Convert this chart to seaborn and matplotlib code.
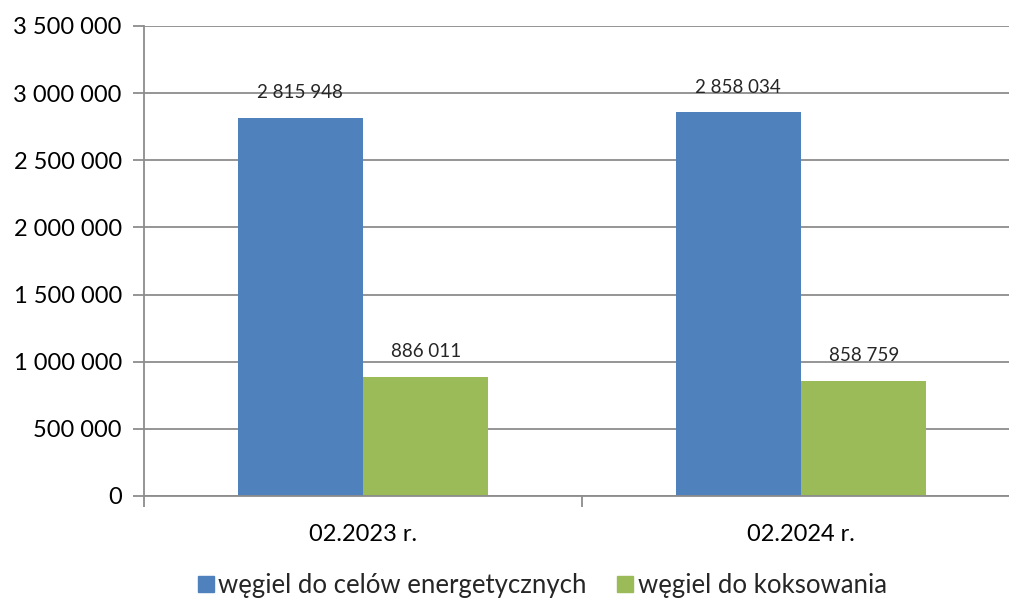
import matplotlib
matplotlib.use("Agg")
import matplotlib.pyplot as plt
import seaborn as sns
import pandas as pd
from matplotlib.ticker import FuncFormatter, FixedLocator
from matplotlib.lines import Line2D

categories = ["02.2023 r.", "02.2024 r."]
series_names = ["węgiel do celów energetycznych", "węgiel do koksowania"]
energ = [2815948, 2858034]
koks = [886011, 858759]
colors = ["#4F81BD", "#9BBB59"]

df = pd.DataFrame({
    "okres": categories * 2,
    "rodzaj": [series_names[0]] * 2 + [series_names[1]] * 2,
    "wartosc": energ + koks,
})

sns.set_theme(style="white")
plt.rcParams["font.family"] = ["Lato", "DejaVu Sans"]

fig = plt.figure(figsize=(10.09, 5.99), dpi=100)
ax = fig.add_axes([144/1009, 1 - 496/599, 876/1009, (496-26)/599])

sns.barplot(data=df, x="okres", y="wartosc", hue="rodzaj", palette=colors,
            width=0.572, saturation=1, ax=ax, legend=False, edgecolor="none")

ax.set_xlim(-0.5, 1.5)
ax.set_ylim(0, 3500000)
ax.yaxis.set_major_locator(FixedLocator(range(0, 3500001, 500000)))
fmt = lambda v, p: f"{int(v):,}".replace(",", " ")
ax.yaxis.set_major_formatter(FuncFormatter(fmt))
ax.grid(axis="y", color="#8c8c8c", linewidth=1.3)
ax.set_axisbelow(True)
for s in ["top", "right"]:
    ax.spines[s].set_visible(False)
ax.spines["left"].set_color("#8c8c8c")
ax.spines["left"].set_linewidth(1.3)
ax.spines["bottom"].set_color("#8c8c8c")
ax.spines["bottom"].set_linewidth(1.3)
ax.set_xlabel("")
ax.set_ylabel("")

ax.tick_params(axis="y", which="major", length=8, width=1.3, color="#8c8c8c",
               left=True, labelsize=17, pad=8, labelcolor="black")
ax.set_xticks([0, 1])
ax.set_xticklabels(categories)
ax.tick_params(axis="x", which="major", length=0, labelsize=17, pad=20, labelcolor="black")
ax.set_xticks([-0.5, 0.5, 1.5], minor=True)
ax.tick_params(axis="x", which="minor", length=8, width=1.3, color="#8c8c8c", bottom=True)

for cont in ax.containers:
    labels = [fmt(b.get_height(), None) for b in cont]
    ax.bar_label(cont, labels=labels, padding=12, fontsize=13.5)

handles = [Line2D([0], [0], marker="s", linestyle="none", markersize=11,
                  markerfacecolor=c, markeredgecolor=c) for c in colors]
fig.legend(handles, series_names, loc="center", bbox_to_anchor=(540/1009, 1 - 585/599),
           ncol=2, frameon=False, fontsize=18.5, handletextpad=0.0, columnspacing=1.0,
           handlelength=1.0)

fig.savefig("out.png", dpi=100)
